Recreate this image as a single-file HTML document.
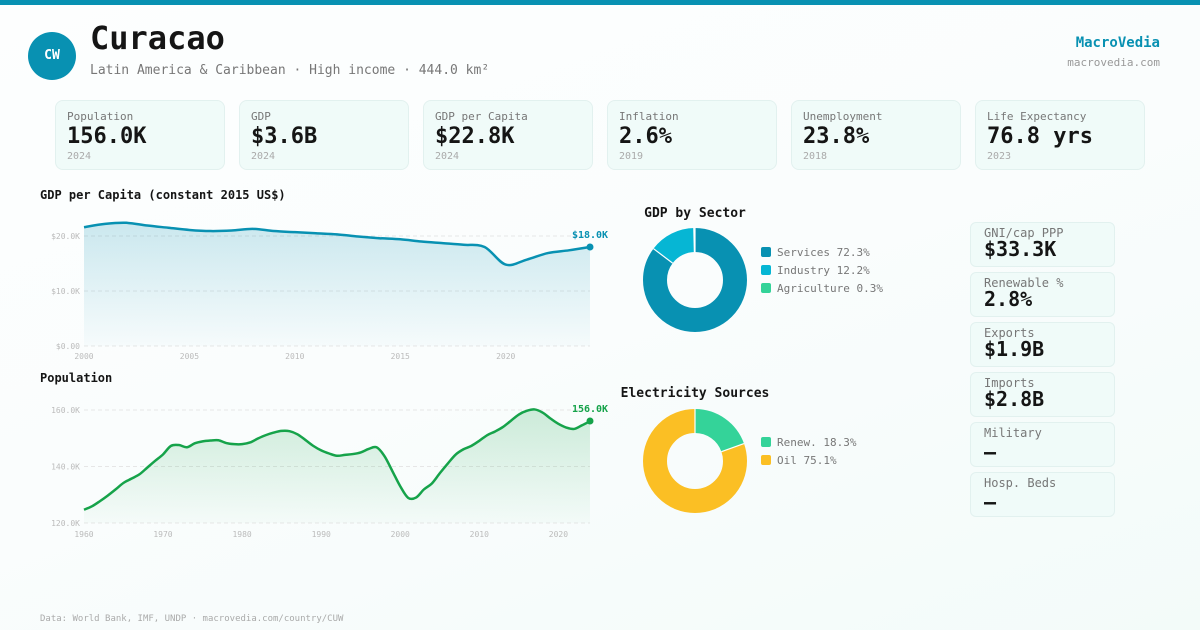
<!DOCTYPE html>
<html><head><meta charset="utf-8">
<style>
*{margin:0;padding:0;box-sizing:border-box}
html,body{width:1200px;height:630px;overflow:hidden}
body{position:relative;font-family:"DejaVu Sans Mono","Liberation Mono",monospace;background:linear-gradient(160deg,#fdfefe 0%,#fafdfd 50%,#f3fbf9 100%);color:#111}
.bar{position:absolute;left:0;top:0;width:1200px;height:5px;background:#0891b2}
.logo{position:absolute;left:28px;top:32px;width:48px;height:48px;border-radius:50%;background:#0891b2;color:#fff;font-weight:bold;font-size:13px;line-height:48px;text-align:center}
.title{position:absolute;left:90px;top:17px;font-size:32px;font-weight:bold;line-height:42px;color:#151515}
.sub{position:absolute;left:90px;top:62px;font-size:13px;line-height:18px;color:#777}
.brand{position:absolute;right:40px;top:34px;font-size:14px;font-weight:bold;color:#0891b2;line-height:18px;text-align:right}
.brand2{position:absolute;right:40px;top:55px;font-size:11px;color:#999;line-height:16px;text-align:right}
.card{position:absolute;top:100px;width:170px;height:70px;background:#f0fbf9;border:1px solid #e2f1ef;border-radius:8px}
.card .l{position:absolute;left:11px;top:8px;font-size:11px;line-height:16px;color:#777}
.card .v{position:absolute;left:11px;top:22px;font-size:22px;font-weight:bold;line-height:28px;color:#151515}
.card .y{position:absolute;left:11px;top:49px;font-size:10px;line-height:14px;color:#aaa}
.sc{position:absolute;left:970px;width:145px;height:45px;background:#f0fbf9;border:1px solid #e2f1ef;border-radius:6px}
.sc .l{position:absolute;left:13px;top:3px;font-size:12px;line-height:15px;color:#777}
.sc .v{position:absolute;left:13px;top:14px;font-size:20px;font-weight:bold;line-height:24px;color:#151515}
.foot{position:absolute;left:40px;top:613px;font-size:9px;color:#aaa;line-height:12px}
svg{position:absolute;left:0;top:0}
</style></head><body>
<div class="bar"></div>
<div class="logo">CW</div>
<div class="title">Curacao</div>
<div class="sub">Latin America &amp; Caribbean · High income · 444.0 km²</div>
<div class="brand">MacroVedia</div>
<div class="brand2">macrovedia.com</div>

<div class="card" style="left:55px"><div class="l">Population</div><div class="v">156.0K</div><div class="y">2024</div></div>
<div class="card" style="left:239px"><div class="l">GDP</div><div class="v">$3.6B</div><div class="y">2024</div></div>
<div class="card" style="left:423px"><div class="l">GDP per Capita</div><div class="v">$22.8K</div><div class="y">2024</div></div>
<div class="card" style="left:607px"><div class="l">Inflation</div><div class="v">2.6%</div><div class="y">2019</div></div>
<div class="card" style="left:791px"><div class="l">Unemployment</div><div class="v">23.8%</div><div class="y">2018</div></div>
<div class="card" style="left:975px"><div class="l">Life Expectancy</div><div class="v">76.8 yrs</div><div class="y">2023</div></div>

<div class="sc" style="top:222px"><div class="l">GNI/cap PPP</div><div class="v">$33.3K</div></div>
<div class="sc" style="top:272px"><div class="l">Renewable %</div><div class="v">2.8%</div></div>
<div class="sc" style="top:322px"><div class="l">Exports</div><div class="v">$1.9B</div></div>
<div class="sc" style="top:372px"><div class="l">Imports</div><div class="v">$2.8B</div></div>
<div class="sc" style="top:422px"><div class="l">Military</div><div class="v" style="top:17px">—</div></div>
<div class="sc" style="top:472px"><div class="l">Hosp. Beds</div><div class="v" style="top:17px">—</div></div>

<svg width="1200" height="630" viewBox="0 0 1200 630" font-family="DejaVu Sans Mono, Liberation Mono, monospace">
<defs>
<linearGradient id="gb" x1="0" y1="0" x2="0" y2="1"><stop offset="0" stop-color="#0891b2" stop-opacity="0.2"/><stop offset="1" stop-color="#0891b2" stop-opacity="0.02"/></linearGradient>
<linearGradient id="gg" x1="0" y1="0" x2="0" y2="1"><stop offset="0" stop-color="#16a34a" stop-opacity="0.2"/><stop offset="1" stop-color="#16a34a" stop-opacity="0.02"/></linearGradient>
</defs>
<text x="40" y="199" font-size="12" font-weight="bold" fill="#151515">GDP per Capita (constant 2015 US$)</text>
<g stroke="#e6e6e6" stroke-width="1" stroke-dasharray="4,3">
<line x1="84" y1="236" x2="590" y2="236"/><line x1="84" y1="291" x2="590" y2="291"/><line x1="84" y1="346" x2="590" y2="346"/>
</g>
<g font-size="8" fill="#bbb" text-anchor="end">
<text x="80" y="239">$20.0K</text><text x="80" y="294">$10.0K</text><text x="80" y="349">$0.00</text>
</g>
<g font-size="8" fill="#bbb" text-anchor="middle">
<text x="84" y="359">2000</text><text x="189.4" y="359">2005</text><text x="294.8" y="359">2010</text><text x="400.2" y="359">2015</text><text x="505.7" y="359">2020</text>
</g>
<path id="ga" fill="url(#gb)" d=""/>
<path id="gl" fill="none" stroke="#0891b2" stroke-width="2.5" stroke-linejoin="round" d=""/>
<circle cx="590" cy="247" r="3.5" fill="#0891b2"/>
<text x="590" y="238" font-size="10" font-weight="bold" fill="#0891b2" text-anchor="middle">$18.0K</text>

<text x="40" y="382" font-size="12" font-weight="bold" fill="#151515">Population</text>
<g stroke="#e6e6e6" stroke-width="1" stroke-dasharray="4,3">
<line x1="84" y1="410" x2="590" y2="410"/><line x1="84" y1="466.5" x2="590" y2="466.5"/><line x1="84" y1="523" x2="590" y2="523"/>
</g>
<g font-size="8" fill="#bbb" text-anchor="end">
<text x="80" y="413">160.0K</text><text x="80" y="469.5">140.0K</text><text x="80" y="526">120.0K</text>
</g>
<g font-size="8" fill="#bbb" text-anchor="middle">
<text x="84" y="537">1960</text><text x="163" y="537">1970</text><text x="242.1" y="537">1980</text><text x="321.2" y="537">1990</text><text x="400.2" y="537">2000</text><text x="479.3" y="537">2010</text><text x="558.4" y="537">2020</text>
</g>
<path id="pa" fill="url(#gg)" d=""/>
<path id="pl" fill="none" stroke="#16a34a" stroke-width="2.5" stroke-linejoin="round" d=""/>
<circle cx="590" cy="421" r="3.5" fill="#16a34a"/>
<text x="590" y="412" font-size="10" font-weight="bold" fill="#16a34a" text-anchor="middle">156.0K</text>

<text x="695" y="217" font-size="13" font-weight="bold" fill="#151515" text-anchor="middle">GDP by Sector</text>
<g transform="rotate(-90 695 280)" fill="none" stroke-width="24">
<circle cx="695" cy="280" r="40" stroke="#0891b2" stroke-dasharray="214.28 251.33"/>
<circle cx="695" cy="280" r="40" stroke="#06b6d4" stroke-dasharray="36.16 251.33" stroke-dashoffset="-214.28"/>
<circle cx="695" cy="280" r="40" stroke="#34d399" stroke-dasharray="0.89 251.33" stroke-dashoffset="-250.44"/>
</g>
<g stroke="#fff" stroke-width="1.2">
<line x1="695" y1="252.5" x2="695" y2="227.5"/><line x1="672.6" y1="263.1" x2="653.5" y2="248.7"/><line x1="694.4" y1="252.5" x2="693.8" y2="227.5"/>
</g>
<rect x="761" y="247" width="10" height="10" rx="2" fill="#0891b2"/>
<rect x="761" y="265" width="10" height="10" rx="2" fill="#06b6d4"/>
<rect x="761" y="283" width="10" height="10" rx="2" fill="#34d399"/>
<g font-size="11" fill="#777">
<text x="777" y="256">Services 72.3%</text><text x="777" y="274">Industry 12.2%</text><text x="777" y="292">Agriculture 0.3%</text>
</g>

<text x="695" y="397" font-size="13" font-weight="bold" fill="#151515" text-anchor="middle">Electricity Sources</text>
<g transform="rotate(-90 695 461)" fill="none" stroke-width="24">
<circle cx="695" cy="461" r="40" stroke="#34d399" stroke-dasharray="49.24 251.33"/>
<circle cx="695" cy="461" r="40" stroke="#fbbf24" stroke-dasharray="202.09 251.33" stroke-dashoffset="-49.24"/>
</g>
<g stroke="#fff" stroke-width="1.2">
<line x1="695" y1="433.5" x2="695" y2="408.5"/><line x1="721.4" y1="451.7" x2="744.0" y2="443.6"/>
</g>
<rect x="761" y="437" width="10" height="10" rx="2" fill="#34d399"/>
<rect x="761" y="455" width="10" height="10" rx="2" fill="#fbbf24"/>
<g font-size="11" fill="#777">
<text x="777" y="446">Renew. 18.3%</text><text x="777" y="464">Oil 75.1%</text>
</g>
</svg>

<div class="foot">Data: World Bank, IMF, UNDP · macrovedia.com/country/CUW</div>

<script>
function smooth(pts){
  var d="M"+pts[0][0].toFixed(2)+","+pts[0][1].toFixed(2);
  for(var i=0;i<pts.length-1;i++){
    var p0=pts[i>0?i-1:i],p1=pts[i],p2=pts[i+1],p3=pts[i+2<pts.length?i+2:i+1];
    var t=1/6;
    var c1x=p1[0]+(p2[0]-p0[0])*t,c1y=p1[1]+(p2[1]-p0[1])*t;
    var c2x=p2[0]-(p3[0]-p1[0])*t,c2y=p2[1]-(p3[1]-p1[1])*t;
    d+=" C"+c1x.toFixed(2)+","+c1y.toFixed(2)+" "+c2x.toFixed(2)+","+c2y.toFixed(2)+" "+p2[0].toFixed(2)+","+p2[1].toFixed(2);
  }
  return d;
}
var g=[21.6,22.2,22.4,21.9,21.5,21.1,20.9,21.0,21.3,20.9,20.7,20.5,20.3,19.9,19.6,19.4,19.0,18.7,18.4,18.0,14.8,15.7,16.9,17.4,18.0];
var gp=g.map(function(v,i){return [84+i*21.083,346-v*5.5];});
var gd=smooth(gp);
document.getElementById('gl').setAttribute('d',gd);
document.getElementById('ga').setAttribute('d',gd+" L590,346 L84,346 Z");
var p=[124.7,125.9,127.7,129.7,131.9,134.2,135.7,137.2,139.6,142,144.3,147.3,147.6,146.8,148.2,148.9,149.2,149.3,148.3,147.9,147.9,148.5,149.9,151.1,152.0,152.6,152.5,151.4,149.4,147.3,145.7,144.6,143.8,144.1,144.4,145,146.2,146.8,143.7,138.4,133,128.9,129,131.9,134,137.6,141,144.2,146.1,147.3,149.1,151.1,152.4,154,156.2,158.4,159.7,160.2,159.1,157,155.1,153.8,153.3,154.6,156];
var pp=p.map(function(v,i){return [84+i*7.906,523-(v-120)*2.825];});
var pd=smooth(pp);
document.getElementById('pl').setAttribute('d',pd);
document.getElementById('pa').setAttribute('d',pd+" L590,523 L84,523 Z");
</script>
</body></html>
